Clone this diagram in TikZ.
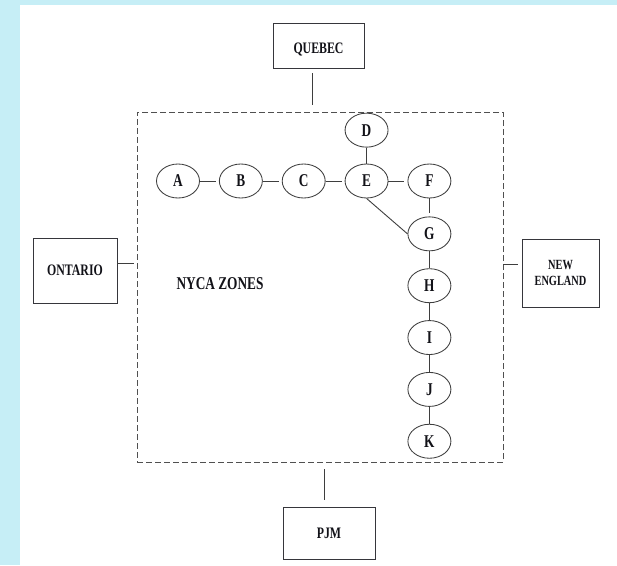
\documentclass[tikz,border=0pt]{standalone}
\usepackage{fontspec}
\setmainfont{Liberation Serif}[FakeStretch=0.74]
\usepackage{xcolor}
\usetikzlibrary{positioning,shapes.geometric}
\definecolor{NYbg}{HTML}{C6EEF6}
\definecolor{NYink}{HTML}{121218}
\definecolor{NYline}{HTML}{3E3E3E}
\definecolor{NYdash}{HTML}{505050}
\tikzset{
  areabox/.style={draw=NYink!85, line width=0.85pt, fill=white, align=center, text=NYink, inner sep=2pt, font=\fontsize{16}{17}\selectfont\bfseries},
  zone/.style={ellipse, draw=NYline, line width=0.85pt, minimum width=43pt, minimum height=34pt, inner sep=0pt, text=NYink, font=\fontsize{18}{19}\selectfont\bfseries},
  tie/.style={draw=NYline, line width=0.9pt},
  zonetie/.style={tie, shorten >=3pt},
  border/.style={draw=NYdash, line width=1pt, dash pattern=on 6pt off 3pt}
}

\begin{document}
\begin{tikzpicture}[x=1pt, y=-1pt, node distance=19pt]
\useasboundingbox (0,0) rectangle (617,565);
\fill[NYbg] (0,0) rectangle (617,565);
\fill[white] (20,5) rectangle (617,565);

% NYCA control area
\node[border, minimum width=366pt, minimum height=350pt] (nyca) at (320,287) {};
\node[text=NYink, font=\fontsize{18}{19}\selectfont\bfseries] (nycalbl) at (220,284) {NYCA ZONES};

% neighbouring control areas
\node[areabox, minimum width=91pt, minimum height=45pt] (quebec) at (318.5,45.5) {\rule{0pt}{18pt}QUEBEC};
\node[areabox, minimum width=84pt, minimum height=65pt] (ontario) at (75,270.5) {ONTARIO};
\node[areabox, minimum width=77pt, minimum height=68pt, font=\fontsize{14}{16}\selectfont\bfseries] (newengland) at (560.5,273) {NEW\\ENGLAND};
\node[areabox, minimum width=92pt, minimum height=52pt] (pjm) at (329,533) {PJM};

% zones
\node[zone] (A) at (178,181) {A};
\node[zone, right=of A] (B) {B};
\node[zone, right=of B] (C) {C};
\node[zone, right=of C] (E) {E};
\node[zone, right=of E] (F) {F};
\node[zone, above=16pt of E] (D) {D};
\node[zone, below=18pt of F] (G) {G};
\node[zone, below=17pt of G] (H) {H};
\node[zone, below=17pt of H] (I) {I};
\node[zone, below=17pt of I] (J) {J};
\node[zone, below=17pt of J] (K) {K};

% interfaces
\draw[zonetie] (A) -- (B);
\draw[zonetie] (B) -- (C);
\draw[zonetie] (C) -- (E);
\draw[zonetie] (E) -- (F);
\draw[tie] (D) -- (E);
\draw[zonetie] (F) -- (G);
\draw[tie] (E.south) -- (G.west);
\draw[tie] (G) -- (H);
\draw[tie] (H) -- (I);
\draw[tie] (I) -- (J);
\draw[tie] (J) -- (K);

\draw[tie, shorten <=5pt, shorten >=7pt] (quebec.256) -- (quebec.256 |- nyca.north);
\draw[tie, shorten >=3pt] (ontario.9) -- (ontario.9 -| nyca.west);
\draw[tie, shorten <=4pt, shorten >=-1pt] (newengland.168) -- (newengland.168 -| nyca.east);
\draw[tie, shorten <=7pt, shorten >=6pt] (pjm.100) -- (pjm.100 |- nyca.south);
\end{tikzpicture}
\end{document}
